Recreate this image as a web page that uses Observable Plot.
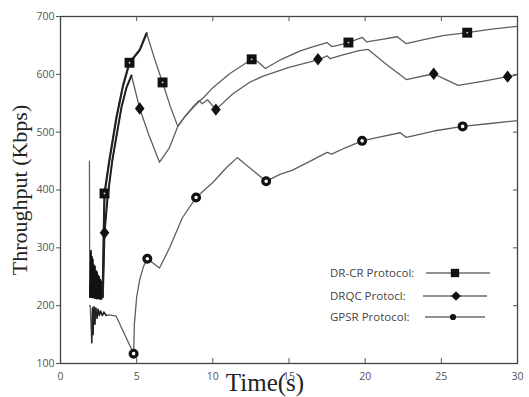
<!DOCTYPE html>
<html><head><meta charset="utf-8">
<script src="https://cdn.jsdelivr.net/npm/d3@7"></script>
<script src="https://cdn.jsdelivr.net/npm/@observablehq/plot@0.6"></script>
<style>
body{margin:0;background:#fff;}
#chart{position:relative;width:529px;height:397px;}
</style>
</head><body><div id="chart"></div>
<script>
// x = time (s), y = throughput (Kbps)
const drcrLine = [[1.9,450],[1.92,215],[2.0,295],[2.03,214],[2.12,280],[2.16,214],[2.26,268],[2.3,213],[2.4,258],[2.44,213],[2.54,250],[2.58,212],[2.66,242],[2.7,212],[2.78,230],[2.82,300],[2.89,394],[3.2,450],[3.67,525],[4.1,580],[4.53,620],[5.2,642],[5.65,671],[6.2,625],[6.7,586],[7.2,545],[7.7,510],[8.2,528],[8.8,545],[9.1,553],[9.4,560],[10.0,577],[11.1,601],[12.55,626],[12.9,623],[13.45,610],[14.5,626],[15.7,640],[16.6,648],[17.5,655],[17.8,648],[18.2,650],[18.9,655],[19.8,664],[20.1,656],[21.0,660],[22.1,665],[22.7,653],[24.0,661],[25.1,667],[26.7,672],[28.3,678],[30,683]];
const drqcLine = [[1.95,215],[2.06,285],[2.1,214],[2.2,270],[2.24,213],[2.34,260],[2.38,212],[2.48,252],[2.52,212],[2.62,245],[2.66,211],[2.74,236],[2.78,215],[2.82,260],[2.89,326],[3.1,390],[3.4,451],[4.0,543],[4.33,577],[4.66,598],[5.2,541],[5.8,495],[6.5,448],[7.15,473],[7.7,510],[8.2,528],[8.67,543],[9.1,555],[9.3,549],[9.65,556],[10.2,539],[11.3,566],[12.4,586],[13.3,597],[15.0,612],[16.9,625],[17.5,632],[17.7,627],[18.6,634],[19.6,641],[20.2,643],[21.4,617],[22.7,591],[24.5,601],[25.3,591],[26.1,581],[27.7,588],[29.35,596],[30,599]];
const gpsrLine = [[1.9,200],[1.95,200],[2.05,136],[2.1,196],[2.14,150],[2.2,198],[2.26,168],[2.32,196],[2.4,178],[2.46,194],[2.55,183],[2.62,191],[2.75,183],[2.85,189],[3.0,183],[3.2,184],[3.65,182],[4.8,117],[4.85,168],[5.0,215],[5.2,245],[5.45,268],[5.7,281],[6.5,265],[7.16,300],[8.0,352],[8.9,387],[10.0,413],[10.9,439],[11.6,456],[13.5,415],[14.4,427],[15.2,434],[16.4,450],[17.5,465],[17.8,462],[18.7,473],[19.8,485],[21.0,492],[22.3,499],[22.7,491],[24.5,502],[26.4,510],[28.2,515],[30,520]];

const drcrMarks = [[2.89,394],[4.53,620],[6.7,586],[12.55,626],[18.9,655],[26.7,672]];
const drqcMarks = [[2.89,326],[5.2,541],[10.2,539],[16.9,626],[24.5,601],[29.35,596]];
const gpsrMarks = [[4.8,117],[5.7,281],[8.9,387],[13.5,415],[19.8,485],[26.4,510]];

const xTicks = [0,5,10,15,20,25,30];
const yTicks = [100,200,300,400,500,600,700];
const innerXTicks = [5,10,15,20,25];
const rightYTicks = [200,300,400,500,600];

const legendNames = ["DR-CR Protocol:","DRQC Protocl:","GPSR Protocol:"];
const xLabel = "Time(s)";
const yLabel = "Throughput (Kbps)";

const lineColor = "#5e5e5e";
const X = d => d[0], Y = d => d[1];

// diamond slightly taller than wide
const diamondSym = {
  draw(ctx, size) {
    const h = 6.2, w = 4.8;
    ctx.moveTo(0, -h); ctx.lineTo(w, 0); ctx.lineTo(0, h); ctx.lineTo(-w, 0); ctx.closePath();
  }
};

const plot = Plot.plot({
  width: 529, height: 397,
  marginLeft: 60, marginRight: 12, marginTop: 16, marginBottom: 34,
  style: {fontFamily: "'Open Sans', sans-serif", background: "#fff"},
  x: {domain: [0, 30]},
  y: {domain: [100, 700]},
  marks: [
    Plot.frame({stroke: "#444", strokeWidth: 1.3}),
    Plot.axisX(xTicks, {tickSize: 0, tickPadding: 9, label: null, fill: "#555", fontSize: 10.5}),
    Plot.axisY(yTicks, {tickSize: 4, tickPadding: 2, label: null, fill: "#555", stroke: "#555", fontSize: 10.5}),
    Plot.tickX(innerXTicks, {x: d => d, insetTop: 342, stroke: "#555"}),
    Plot.tickX(innerXTicks, {x: d => d, insetBottom: 342, stroke: "#555"}),
    Plot.tickY(rightYTicks, {y: d => d, insetLeft: 453, stroke: "#555"}),
    Plot.line(drcrLine, {x: X, y: Y, stroke: lineColor, strokeWidth: 1.3}),
    Plot.line(drqcLine, {x: X, y: Y, stroke: lineColor, strokeWidth: 1.3}),
    Plot.line(gpsrLine, {x: X, y: Y, stroke: lineColor, strokeWidth: 1.3}),
    Plot.line(drcrLine.filter(d => d[0] >= 1.92 && d[0] <= 2.8), {x: X, y: Y, stroke: "#111", strokeWidth: 1.6}),
    Plot.line(drqcLine.filter(d => d[0] <= 2.8), {x: X, y: Y, stroke: "#111", strokeWidth: 1.6}),
    Plot.line(gpsrLine.filter(d => d[0] >= 2.05 && d[0] <= 3.0), {x: X, y: Y, stroke: "#222", strokeWidth: 1.4}),
    Plot.line(drcrLine.filter(d => d[0] >= 2.78 && d[0] <= 5.65), {x: X, y: Y, stroke: "#222", strokeWidth: 2.2}),
    Plot.line(drqcLine.filter(d => d[0] >= 2.78 && d[0] <= 4.66), {x: X, y: Y, stroke: "#222", strokeWidth: 2}),
    Plot.dot(drcrMarks, {x: X, y: Y, symbol: "square", r: 5.6, fill: "#111"}),
    Plot.dot(drcrMarks, {x: X, y: Y, r: 0.9, fill: "#ddd"}),
    Plot.dot(drqcMarks, {x: X, y: Y, symbol: diamondSym, r: 5, fill: "#111"}),
    Plot.dot(gpsrMarks, {x: X, y: Y, r: 3.4, fill: "#fff", stroke: "#111", strokeWidth: 3.2})
  ]
});
document.getElementById("chart").appendChild(plot);

const svg = d3.select(plot);
// axis titles
svg.append("text").text(yLabel)
  .attr("transform", "translate(27,190) rotate(-90)")
  .attr("text-anchor", "middle")
  .style("font-family", "'Liberation Serif', 'DejaVu Serif', serif")
  .style("font-size", "22px").attr("fill", "#222");
svg.append("text").text(xLabel)
  .attr("x", 265).attr("y", 391)
  .attr("text-anchor", "middle")
  .style("font-family", "'Liberation Serif', 'DejaVu Serif', serif")
  .style("font-size", "25px").attr("fill", "#222");

// legend
const lg = svg.append("g").style("font-family", "'Open Sans', sans-serif").style("font-size", "11.5px");
const legendRows = [
  {name: legendNames[0], y: 273, x1: 426, x2: 490, mx: 455, sym: "square"},
  {name: legendNames[1], y: 296, x1: 423, x2: 487, mx: 456, sym: "diamond"},
  {name: legendNames[2], y: 317, x1: 425, x2: 485, mx: 453, sym: "circle"}
];
legendRows.forEach(r => {
  lg.append("text").text(r.name).attr("x", 330).attr("y", r.y).attr("dy", "0.35em")
    .attr("text-anchor", "start").attr("fill", "#444");
  lg.append("line").attr("x1", r.x1).attr("x2", r.x2).attr("y1", r.y).attr("y2", r.y).attr("stroke", "#222").attr("stroke-width", 1.2);
  const t = r.sym === "square" ? d3.symbolSquare : r.sym === "diamond" ? d3.symbolDiamond2 : d3.symbolCircle;
  const size = r.sym === "square" ? 70 : r.sym === "diamond" ? 60 : 30;
  lg.append("path").attr("d", d3.symbol(t, size)()).attr("transform", `translate(${r.mx},${r.y})`).attr("fill", "#111");
});
</script>
</body></html>
